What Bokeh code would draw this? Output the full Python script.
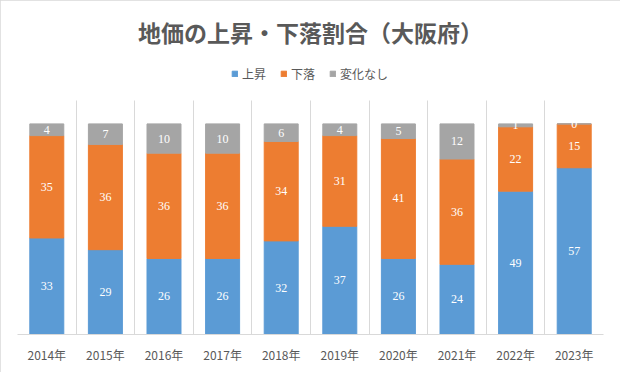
from bokeh.plotting import figure
from bokeh.models import ColumnDataSource, FixedTicker, LabelSet, Legend, LegendItem
from bokeh.embed import file_html
from bokeh.resources import INLINE

years = ["2014年", "2015年", "2016年", "2017年", "2018年", "2019年", "2020年", "2021年", "2022年", "2023年"]
rise = [33, 29, 26, 26, 32, 37, 26, 24, 49, 57]
fall = [35, 36, 36, 36, 34, 31, 41, 36, 22, 15]
flat = [4, 7, 10, 10, 6, 4, 5, 12, 1, 0]
series_names = ["上昇", "下落", "変化なし"]
colors = ["#5B9BD5", "#ED7D31", "#A5A5A5"]
FONT = "Noto Sans CJK JP"

xs = [i + 0.5 for i in range(len(years))]
b1 = [0] * len(years)
t1 = rise
t2 = [a + b for a, b in zip(rise, fall)]
t3 = [a + b for a, b in zip(t2, flat)]

src = ColumnDataSource(dict(
    x=xs, b1=b1, t1=t1, t2=t2, t3=t3,
    m1=[(a + b) / 2 for a, b in zip(b1, t1)],
    m2=[(a + b) / 2 for a, b in zip(t1, t2)],
    m3=[(a + b) / 2 for a, b in zip(t2, t3)],
    l1=[str(v) for v in rise], l2=[str(v) for v in fall], l3=[str(v) for v in flat],
))

# frame: bar area 234px tall for 0..80; frame extended upward to hold legend
FW, FH = 586, 279
Y_AXIS_MAX = 80
y_end = Y_AXIS_MAX * FH / 234.0
p = figure(frame_width=FW, frame_height=FH, x_range=(0, len(years)), y_range=(0, y_end),
           output_backend="svg", toolbar_location=None,
           min_border_left=17, min_border_right=17, min_border_bottom=38, min_border_top=55)
p.outline_line_color = None
p.border_fill_color = "white"
p.styles = {"outline": "2px solid #D9D9D9", "outline-offset": "-2px"}

r1 = p.vbar(x="x", bottom="b1", top="t1", width=0.58, color=colors[0], source=src)
r2 = p.vbar(x="x", bottom="t1", top="t2", width=0.58, color=colors[1], source=src)
r3 = p.vbar(x="x", bottom="t2", top="t3", width=0.58, color=colors[2], source=src)

for m, l in (("m1", "l1"), ("m2", "l2"), ("m3", "l3")):
    p.add_layout(LabelSet(x="x", y=m, text=l, source=src, text_color="white",
                          text_font=FONT, text_font_size="12px",
                          text_align="center", text_baseline="middle"))

p.yaxis.visible = False
p.ygrid.visible = False
p.xgrid.ticker = FixedTicker(ticks=list(range(len(years) + 1)))
p.xgrid.grid_line_color = "#D9D9D9"
if "cross_bounds" in p.xgrid.properties():
    p.xgrid.cross_bounds = (0, Y_AXIS_MAX)
p.xaxis.ticker = FixedTicker(ticks=xs)
p.xaxis.major_label_overrides = {x: y for x, y in zip(xs, years)}
p.xaxis.major_tick_line_color = None
p.xaxis.minor_tick_line_color = None
p.xaxis.axis_line_color = "#D9D9D9"
p.xaxis.major_label_text_font = FONT
p.xaxis.major_label_text_font_size = "12px"
p.xaxis.major_label_text_color = "#595959"
p.xaxis.major_label_standoff = 5

p.title.text = "地価の上昇・下落割合（大阪府）"
p.title.align = "center"
p.title.text_font = FONT
p.title.text_font_size = "23px"
p.title.text_font_style = "bold"
p.title.text_color = "#595959"
p.title.standoff = 13

legend = Legend(items=[LegendItem(label=n, renderers=[r]) for n, r in zip(series_names, [r1, r2, r3])],
                orientation="horizontal", location=(214, 252),
                label_text_font=FONT, label_text_font_size="12px", label_text_color="#595959",
                glyph_width=7, glyph_height=7, label_standoff=4, spacing=14,
                border_line_color=None, background_fill_alpha=0, padding=4, margin=0)
p.add_layout(legend, "center")

open("out.html", "w").write(file_html(p, INLINE))
